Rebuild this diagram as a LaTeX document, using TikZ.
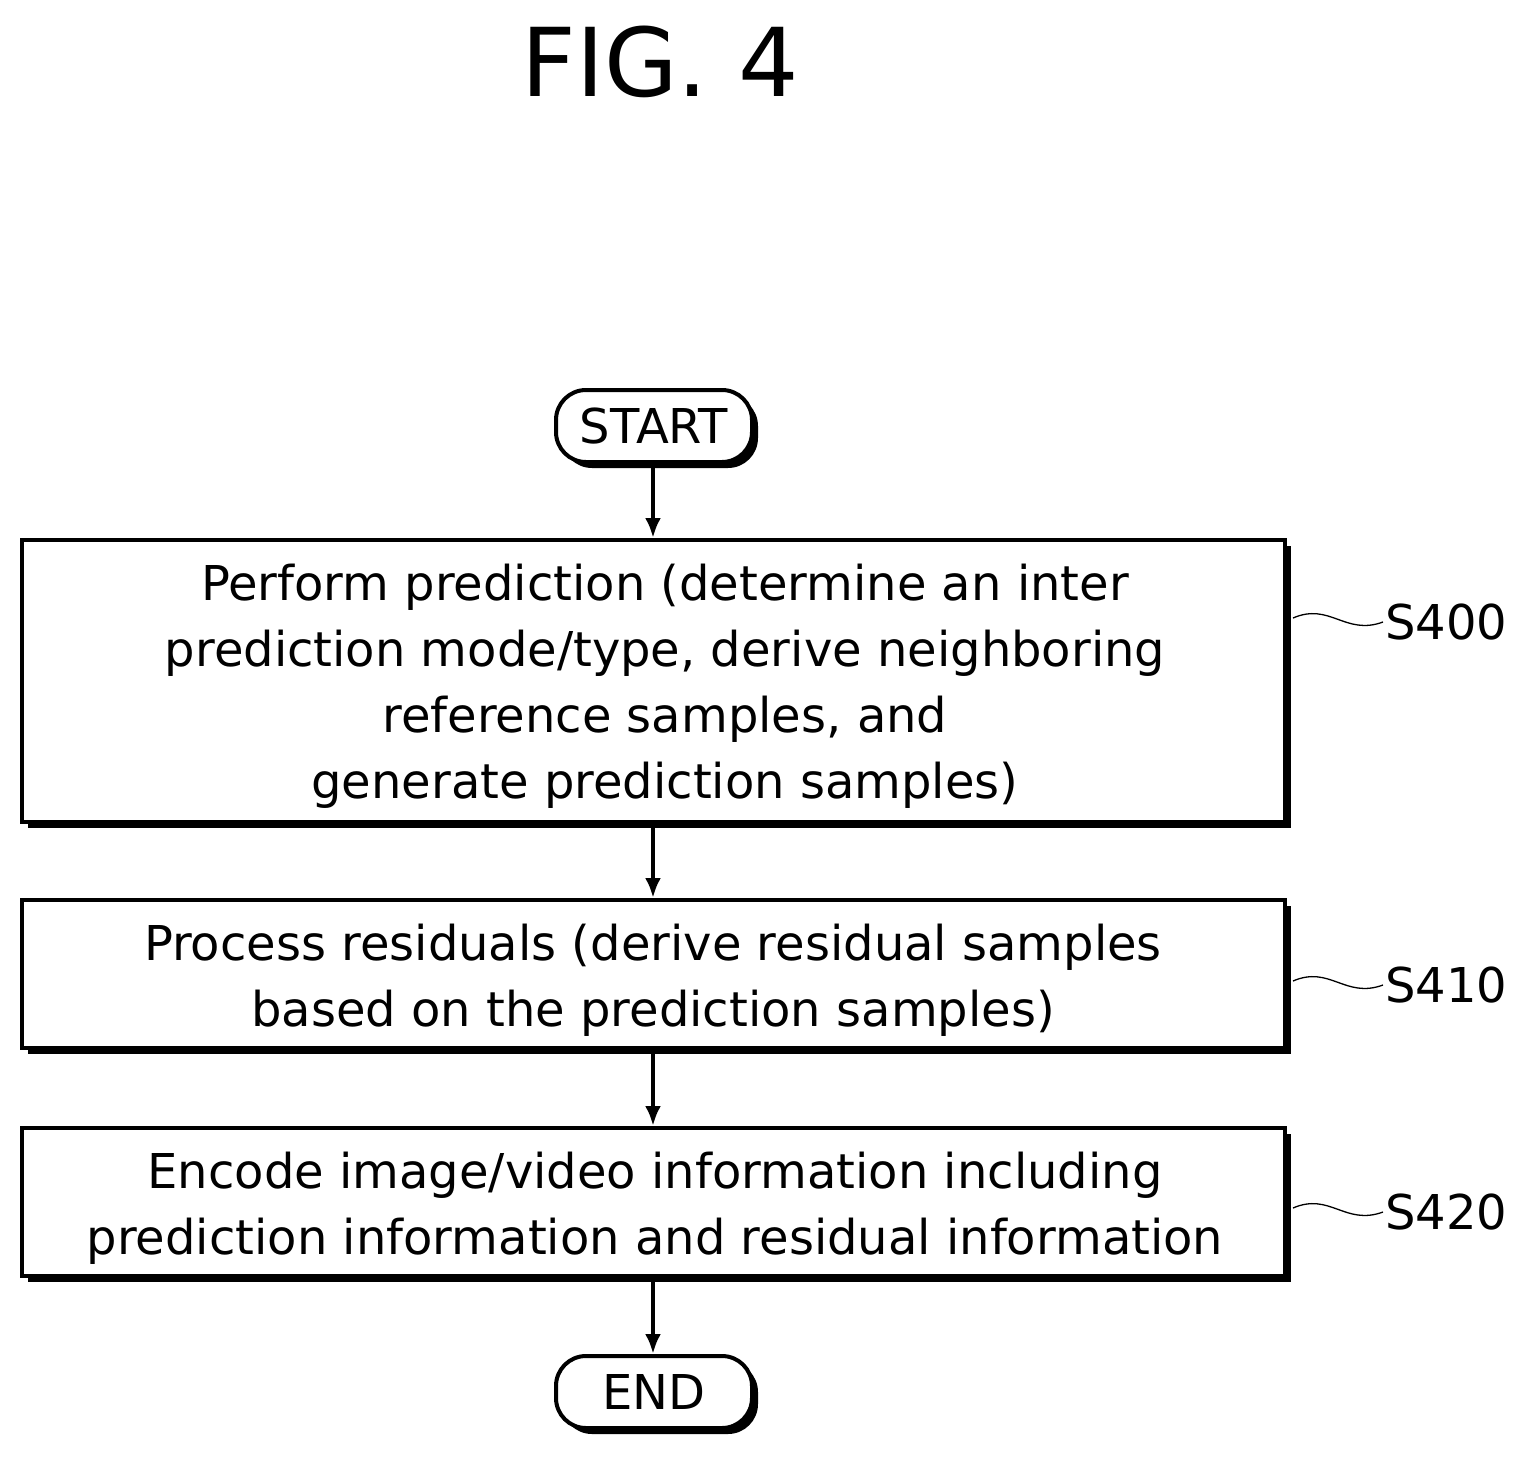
\documentclass[tikz,border=0pt]{standalone}
\usepackage{fontspec}
\setmainfont{DejaVu Sans}
\usetikzlibrary{arrows.meta}
\begin{document}
\begin{tikzpicture}[x=1pt,y=-1pt,
 txt/.style={font=\fontsize{48}{66}\selectfont,align=center},
 arr/.style={line width=4pt,-{Latex[length=20pt,width=16pt]}},
 wave/.style={line width=1.3pt}]
\useasboundingbox (0,0) rectangle (1535,1457);
\node[font=\fontsize{95}{100}\selectfont] (title) at (660,62) {FIG. 4};
\fill[rounded corners=30pt] (562,396) rectangle (758,468);
\draw[line width=4pt,fill=white,rounded corners=30pt] (556,390) rectangle (752,462);
\node[txt] (start) at (654,426) {START};
\fill (28,546) rectangle (1291,828);
\draw[line width=4pt,fill=white] (22,540) rectangle (1285,822);
\node[txt] (b1) at (665,686) {Perform prediction (determine an inter\\prediction mode/type, derive neighboring\\reference samples, and\\generate prediction samples)};
\fill (28,906) rectangle (1291,1054);
\draw[line width=4pt,fill=white] (22,900) rectangle (1285,1048);
\node[txt] (b2) at (653,980) {Process residuals (derive residual samples\\based on the prediction samples)};
\fill (28,1134) rectangle (1291,1282);
\draw[line width=4pt,fill=white] (22,1128) rectangle (1285,1276);
\node[txt] (b3) at (655,1208) {Encode image/video information including\\prediction information and residual information};
\fill[rounded corners=30pt] (562,1362) rectangle (758,1434);
\draw[line width=4pt,fill=white,rounded corners=30pt] (556,1356) rectangle (752,1428);
\node[txt] (end) at (654,1392) {END};
\coordinate (s0) at (653,466); \coordinate (t0) at (653,538);
\coordinate (s1) at (653,826); \coordinate (t1) at (653,898);
\coordinate (s2) at (653,1052); \coordinate (t2) at (653,1126);
\coordinate (s3) at (653,1280); \coordinate (t3) at (653,1354);
\draw[arr] (s0)--(t0); \draw[arr] (s1)--(t1); \draw[arr] (s2)--(t2); \draw[arr] (s3)--(t3);
\foreach \y/\l in {622/S400,985/S410,1212/S420}{
 \node[txt,anchor=west,inner sep=0pt] (L\l) at (1385,\y) {\l};
 \draw[wave] (1293,\y-4) .. controls (1330,\y-20) and (1345,\y+14) .. (1383,\y);
}
\end{tikzpicture}
\end{document}
